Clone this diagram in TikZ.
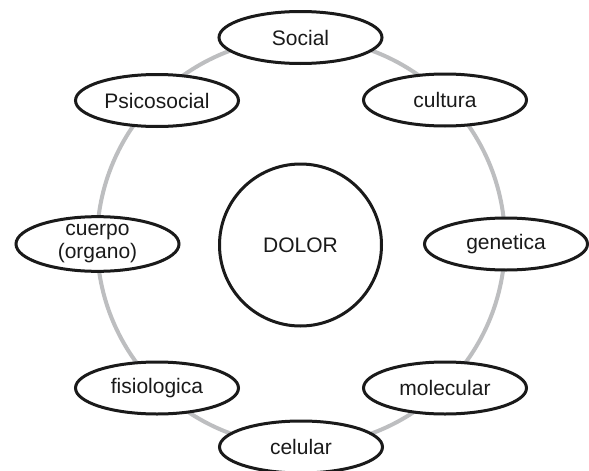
\documentclass[tikz,border=0pt]{standalone}
\usepackage{fontspec}
\setmainfont{Liberation Sans}
\usetikzlibrary{shapes.geometric}
\definecolor{ringgray}{HTML}{BDBEC0}
\definecolor{inkblack}{HTML}{1A1A1A}
\begin{document}
\begin{tikzpicture}[x=1pt,y=-1pt,
  bubble/.style={ellipse,draw=inkblack,line width=3pt,fill=white,
    minimum width=163pt,minimum height=52pt,inner sep=0pt,
    align=center,font=\fontsize{21}{23}\selectfont,text=inkblack},
  core/.style={circle,draw=inkblack,line width=3pt,fill=white,
    minimum size=162pt,inner sep=0pt,font=\fontsize{21}{23}\selectfont,text=inkblack}]
\useasboundingbox[fill=white] (0,0) rectangle (589,471);
\coordinate (ringc) at (301,242);
\draw[ringgray,line width=4pt] (ringc) circle[radius=204];
\node[bubble] (social) at (300.5,37.5) {Social};
\node[bubble] (cultura) at (445,100) {cultura};
\node[bubble] (genetica) at (506,244) {genetica};
\node[bubble] (molecular) at (445,388) {molecular};
\node[bubble] (celular) at (301,447) {celular};
\node[bubble] (fisiologica) at (157,388) {fisiologica};
\node[bubble] (cuerpo) at (97.5,244) {cuerpo\\(organo)};
\node[bubble] (psicosocial) at (157,100.5) {Psicosocial};
\node[core] (dolor) at (300.5,245) {DOLOR};
\end{tikzpicture}
\end{document}
